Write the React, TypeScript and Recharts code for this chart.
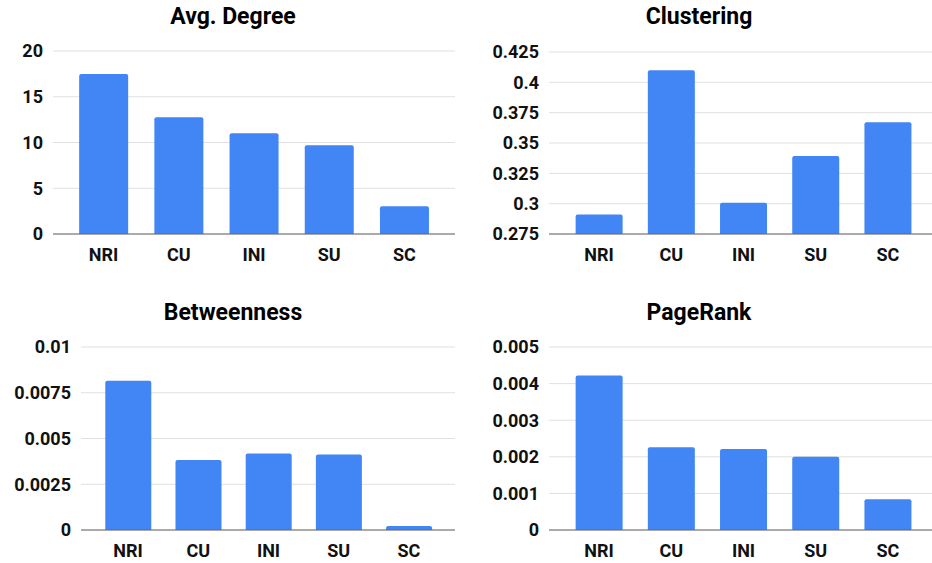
import React from 'react';
import { BarChart, Bar, XAxis, YAxis, CartesianGrid } from 'recharts';

const categories = ['NRI', 'CU', 'INI', 'SU', 'SC'];
const avgDegree = [17.5, 12.75, 11.0, 9.7, 3.03];
const clustering = [0.291, 0.41, 0.3007, 0.3393, 0.367];
const betweenness = [0.00815, 0.00382, 0.00418, 0.00412, 0.00022];
const pageRank = [0.00422, 0.00226, 0.00221, 0.002, 0.00084];

const avgDegreeTicks = [0, 5, 10, 15, 20];
const clusteringTicks = [0.275, 0.3, 0.325, 0.35, 0.375, 0.4, 0.425];
const betweennessTicks = [0, 0.0025, 0.005, 0.0075, 0.01];
const pageRankTicks = [0, 0.001, 0.002, 0.003, 0.004, 0.005];

const FONT = 'Roboto, "Noto Sans", sans-serif';
const BLUE = '#4285f4';

interface PanelProps {
  title: string;
  values: number[];
  ticks: number[];
  left: number;
  top: number;
  yWidth: number;
  marginTop: number;
  marginRight: number;
  plotBottom: number;
  padLeft: number;
  padRight: number;
  titleY: number;
}

function Panel({
  title,
  values,
  ticks,
  left,
  top,
  yWidth,
  marginTop,
  marginRight,
  plotBottom,
  padLeft,
  padRight,
  titleY,
}: PanelProps) {
  const width = 466;
  const height = 280;
  const data = categories.map((name, i) => ({ name, value: values[i] }));
  const tickStyle = { fill: '#111', fontSize: 18, fontWeight: 700, fontFamily: FONT };

  return (
    <div style={{ position: 'absolute', left, top, width, height }}>
      <div
        style={{
          position: 'absolute',
          left: 0,
          width: 466,
          top: titleY,
          textAlign: 'center',
          fontFamily: FONT,
          fontWeight: 700,
          fontSize: 23,
          color: '#000',
          lineHeight: '27px',
        }}
      >
        {title}
      </div>
      <BarChart
        width={width}
        height={height}
        data={data}
        margin={{ top: marginTop, right: marginRight, left: 0, bottom: height - plotBottom - 30 }}
        barCategoryGap="17.5%"
      >
        <CartesianGrid vertical={false} stroke="#e0e0e0" strokeWidth={1} />
        <XAxis
          dataKey="name"
          height={30}
          tickLine={false}
          tickSize={6}
          tickMargin={8}
          axisLine={{ stroke: '#666', strokeWidth: 1.2 }}
          padding={{ left: padLeft, right: padRight }}
          tick={tickStyle}
          interval={0}
        />
        <YAxis
          width={yWidth}
          domain={[ticks[0], ticks[ticks.length - 1]]}
          ticks={ticks}
          interval={0}
          allowDataOverflow
          axisLine={false}
          tickLine={false}
          tickSize={6}
          tickMargin={4}
          tick={tickStyle}
        />
        <Bar dataKey="value" fill={BLUE} radius={[2, 2, 0, 0]} isAnimationActive={false} />
      </BarChart>
    </div>
  );
}

export default function App() {
  return (
    <div
      style={{
        position: 'absolute',
        left: 0,
        top: 0,
        width: 932,
        height: 563,
        background: '#fff',
        overflow: 'hidden',
      }}
    >
      <Panel
        title="Avg. Degree"
        values={avgDegree}
        ticks={avgDegreeTicks}
        left={0}
        top={0}
        yWidth={53}
        marginTop={51}
        marginRight={11}
        plotBottom={234}
        padLeft={13}
        padRight={13}
        titleY={3}
      />
      <Panel
        title="Clustering"
        values={clustering}
        ticks={clusteringTicks}
        left={466}
        top={0}
        yWidth={83}
        marginTop={52}
        marginRight={0}
        plotBottom={234}
        padLeft={14}
        padRight={8}
        titleY={3}
      />
      <Panel
        title="Betweenness"
        values={betweenness}
        ticks={betweennessTicks}
        left={0}
        top={290}
        yWidth={81}
        marginTop={57}
        marginRight={11}
        plotBottom={240}
        padLeft={12}
        padRight={11}
        titleY={9}
      />
      <Panel
        title="PageRank"
        values={pageRank}
        ticks={pageRankTicks}
        left={466}
        top={290}
        yWidth={83}
        marginTop={57}
        marginRight={0}
        plotBottom={240}
        padLeft={14}
        padRight={8}
        titleY={9}
      />
    </div>
  );
}
